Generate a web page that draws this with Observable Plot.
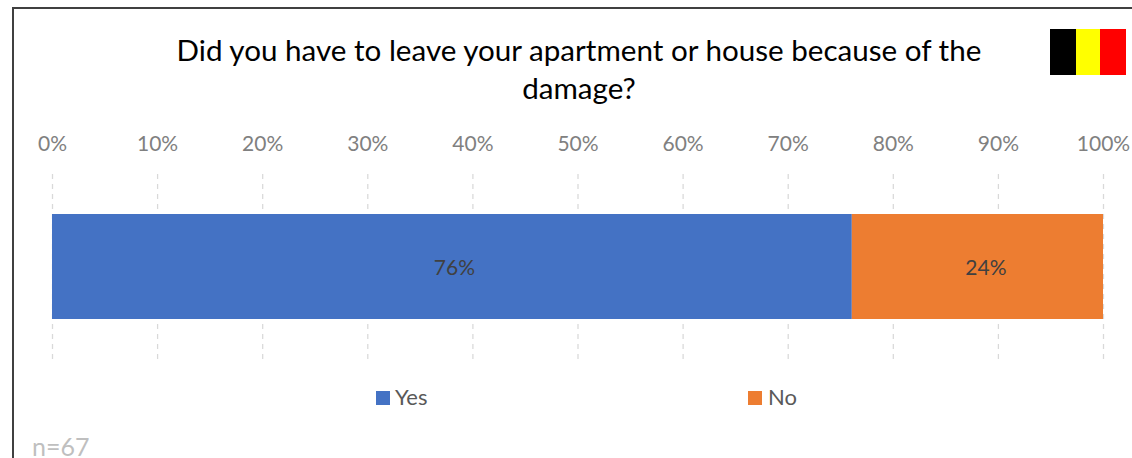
<!DOCTYPE html>
<html><head><meta charset="utf-8">
<script src="https://cdn.jsdelivr.net/npm/d3@7"></script>
<script src="https://cdn.jsdelivr.net/npm/@observablehq/plot@0.6"></script>
<style>
html,body{margin:0;padding:0;background:#fff;}
#page{position:relative;width:1132px;height:458px;overflow:hidden;font-family:Lato,"Open Sans",sans-serif;}
#page>*{position:absolute;}
#frame{left:12px;top:7px;width:1130px;height:470px;border:2px solid #404040;box-sizing:border-box;}
#title{left:140px;width:878px;top:31px;text-align:center;font-size:29.6px;line-height:38px;color:#000;}
#flag{left:1050px;top:29px;width:76px;height:46px;display:flex;}
#flag i{display:block;height:100%;}
.leg{font-size:22px;color:#595959;line-height:24px;top:385px;}
.sw{width:14px;height:14px;top:391px;}
#n{left:32px;top:436px;font-size:25px;color:#bfbfbf;line-height:20px;}
</style></head><body>
<div id="page"></div>
<script>
const questionTitle = "Did you have to leave your apartment or house because of the damage?";
const categories = ["Yes", "No"];
const seriesValues = [76.1, 23.9];
const seriesLabels = ["76%", "24%"];
const seriesColors = ["#4472c4", "#ed7d31"];
const tickValues = [0, 10, 20, 30, 40, 50, 60, 70, 80, 90, 100];
const sampleNote = "n=67";
const flagColors = ["#000000", "#ffff00", "#ff0000"];

const rows = categories.map((c, i) => ({question: "Q", answer: c, value: seriesValues[i], label: seriesLabels[i]}));
const page = document.getElementById("page");

const chart = Plot.plot({
  width: 1132, height: 458,
  marginLeft: 52, marginRight: 29, marginTop: 174, marginBottom: 98,
  style: {background: "transparent", fontFamily: "Lato, sans-serif"},
  x: {domain: [0, 100], label: null},
  y: {domain: ["Q"], padding: 0.274, axis: null, label: null},
  color: {domain: categories, range: seriesColors},
  marks: [
    Plot.gridX(tickValues, {stroke: "#d9d9d9", strokeOpacity: 1, strokeDasharray: "5 5", strokeWidth: 1.25}),
    Plot.barX(rows, Plot.stackX({x: "value", y: "question", fill: "answer", order: null})),
    Plot.text(rows, Plot.stackX({x: "value", y: "question", text: d => d.answer === "Yes" ? d.label : "", fill: "#404040", fontSize: 21, dx: 2, dy: 1.5, order: null})),
    Plot.text(rows, Plot.stackX({x: "value", y: "question", text: d => d.answer === "No" ? d.label : "", fill: "#404040", fontSize: 21, dx: 8, dy: 1.5, order: null})),
    Plot.axisX(tickValues, {anchor: "top", tickSize: 0, tickPadding: 24, tickFormat: d => d + "%", fontSize: 21, fill: "#808080", label: null})
  ]
});
chart.style.left = "0"; chart.style.top = "0";
page.append(chart);

function add(id, cls, text, css) {
  const e = document.createElement("div");
  if (id) e.id = id; if (cls) e.className = cls;
  if (text) e.textContent = text;
  Object.assign(e.style, css || {});
  page.append(e); return e;
}
add("frame");
add("title", null, questionTitle);
const flag = add("flag");
[26, 24, 26].forEach((w, i) => { const s = document.createElement("i"); s.style.width = w + "px"; s.style.background = flagColors[i]; flag.append(s); });
add(null, "sw", null, {left: "376px", background: seriesColors[0]});
add(null, "leg", categories[0], {left: "395px"});
add(null, "sw", null, {left: "748px", background: seriesColors[1]});
add(null, "leg", categories[1], {left: "768px"});
add("n", null, sampleNote);
</script>
</body></html>
